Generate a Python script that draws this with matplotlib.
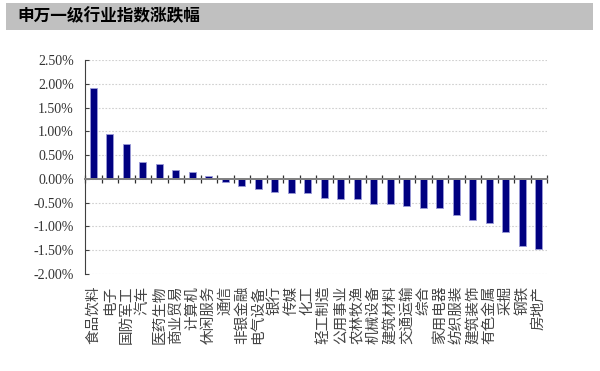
import numpy as np
import matplotlib.pyplot as plt
from matplotlib.patches import Rectangle
from matplotlib.ticker import FixedLocator, FuncFormatter

plt.rcParams['font.family'] = ['Noto Sans CJK SC', 'DejaVu Sans']

industries = ['食品饮料', '电子', '国防军工', '汽车', '医药生物', '商业贸易', '计算机',
              '休闲服务', '通信', '非银金融', '电气设备', '银行', '传媒', '化工',
              '轻工制造', '公用事业', '农林牧渔', '机械设备', '建筑材料', '交通运输',
              '综合', '家用电器', '纺织服装', '建筑装饰', '有色金属', '采掘', '钢铁', '房地产']
changes = [1.91, 0.94, 0.73, 0.36, 0.31, 0.19, 0.14, 0.07, -0.07, -0.16, -0.21, -0.28,
           -0.29, -0.29, -0.40, -0.42, -0.42, -0.52, -0.52, -0.56, -0.61, -0.61, -0.75,
           -0.86, -0.92, -1.11, -1.41, -1.48]
yticks = [2.5, 2.0, 1.5, 1.0, 0.5, 0.0, -0.5, -1.0, -1.5, -2.0]
title = '申万一级行业指数涨跌幅'

fig = plt.figure(figsize=(6, 3.71), dpi=100)

# grey header band
fig.patches.append(Rectangle((6 / 600, 1 - 30 / 371), 587 / 600, 27 / 371,
                             transform=fig.transFigure, facecolor='#c0c0c0',
                             edgecolor='none', zorder=0))
fig.text(17 / 600, 1 - 16 / 371, title, fontsize=12, fontweight='bold',
         va='center', ha='left')

ax = fig.add_axes([85 / 600, 1 - 274 / 371, 462 / 600, 214 / 371])
x = np.arange(len(industries))
ax.bar(x, changes, width=0.42, color='#000080', edgecolor='#9a9ad8',
       linewidth=0.6, zorder=3)

ax.set_xlim(-0.5, len(industries) - 0.5)
ax.set_ylim(-2.0, 2.5)
ax.set_yticks(yticks)
ax.yaxis.set_major_formatter(FuncFormatter(lambda v, p: f'{v:.2f}%'))
ax.tick_params(axis='y', direction='in', length=3, color='#404040',
               labelsize=10, labelcolor='#333333', pad=8)
for lab in ax.get_yticklabels():
    lab.set_family(['Liberation Serif', 'DejaVu Serif'])
ax.grid(axis='y', linestyle=(0, (1.5, 1.5)), color='#d0d0d0', linewidth=0.8, zorder=0)

for s in ['top', 'right']:
    ax.spines[s].set_visible(False)
ax.spines['left'].set_color('#404040')
ax.spines['bottom'].set_position(('data', 0))
ax.spines['bottom'].set_color('#808080')
ax.spines['bottom'].set_linewidth(1.4)
ax.spines['bottom'].set_zorder(4)

ax.set_xticks(x)
ax.set_xticklabels([])
ax.tick_params(axis='x', which='major', length=0)
ax.xaxis.set_minor_locator(FixedLocator(np.arange(-0.5, len(industries), 1.0)))
ax.tick_params(axis='x', which='minor', direction='inout', length=6,
               width=0.9, color='#303030')

for xi, name in zip(x, industries):
    ax.text(xi, -0.055, name, transform=ax.get_xaxis_transform(), rotation=90,
            ha='center', va='top', fontsize=10.5, color='#444444')

fig.savefig('out.png', dpi=100)
